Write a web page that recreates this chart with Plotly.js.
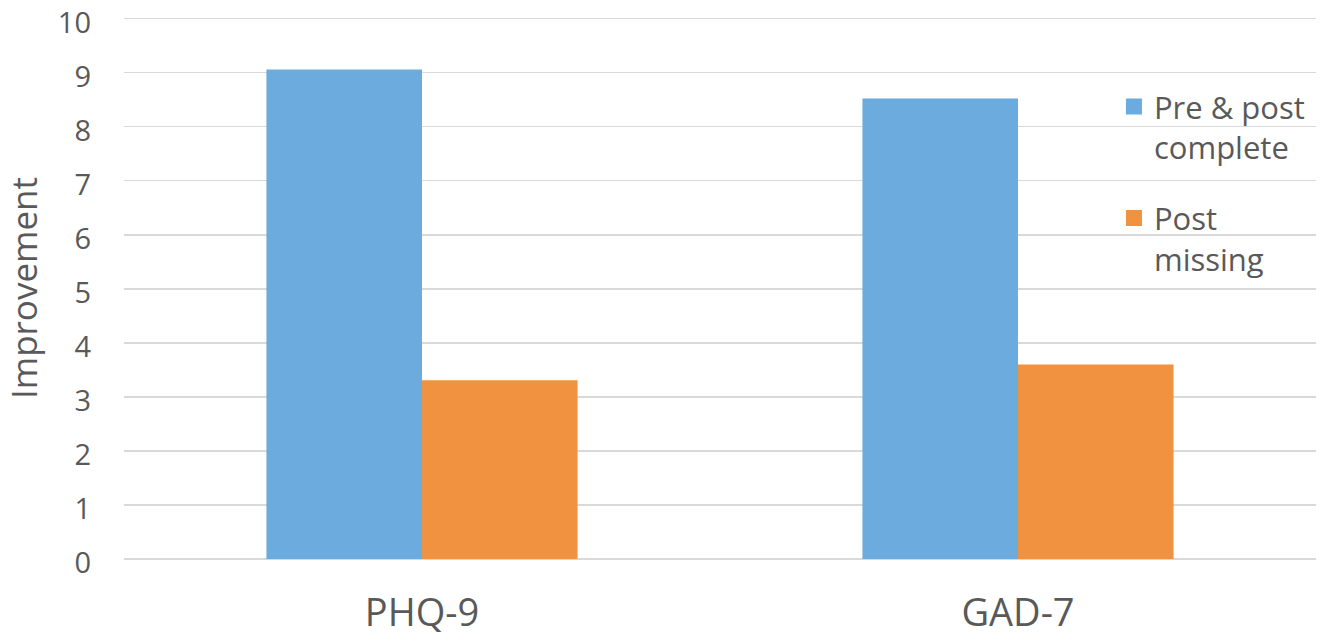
<!DOCTYPE html>
<html>
<head>
<meta charset="utf-8">
<script src="https://cdn.plot.ly/plotly-3.0.1.min.js"></script>
<style>
  html, body { margin: 0; padding: 0; background: #ffffff; }
  #chart { width: 1327px; height: 641px; }
</style>
</head>
<body>
<div id="chart"></div>
<script>
// Mean improvement on each questionnaire, split by follow-up status
const measures = ['PHQ-9', 'GAD-7'];
const prePostComplete = [9.06, 8.52];
const postMissing = [3.31, 3.60];
const seriesNames = ['Pre & post<br>complete', 'Post<br>missing'];
const seriesColors = ['#6cabdd', '#f19240'];
const yTicks = [0, 1, 2, 3, 4, 5, 6, 7, 8, 9, 10];

const textColor = '#595959';
const fontFamily = '"Open Sans", "Noto Sans", sans-serif';

const bars = [prePostComplete, postMissing].map((vals, i) => ({
  type: 'bar',
  x: measures,
  y: vals,
  name: seriesNames[i],
  marker: { color: seriesColors[i], line: { width: 0 } },
  showlegend: false,
  hoverinfo: 'x+y'
}));

// Legend entries with larger square swatches
const legendEntries = seriesNames.map((nm, i) => ({
  type: 'scatter',
  mode: 'markers',
  x: [null],
  y: [null],
  name: nm,
  legendgroup: 'g' + i,
  marker: { symbol: 'square', size: 16, color: seriesColors[i] },
  showlegend: true,
  hoverinfo: 'skip'
}));

const layout = {
  width: 1327,
  height: 641,
  margin: { l: 124, r: 11, t: 17, b: 82 },
  paper_bgcolor: '#ffffff',
  plot_bgcolor: '#ffffff',
  barmode: 'group',
  bargap: 0.478,
  bargroupgap: 0,
  font: { family: fontFamily, color: textColor },
  xaxis: {
    type: 'category',
    tickfont: { size: 38, color: textColor },
    showgrid: false,
    showline: false,
    zeroline: false,
    ticks: '',
    ticklabelstandoff: 28
  },
  yaxis: {
    range: [0, 10.03],
    tickvals: yTicks,
    tickfont: { size: 29, color: textColor },
    ticklabeloverflow: 'allow',
    ticklabelshift: 4,
    showgrid: true,
    gridcolor: '#d9d9d9',
    gridwidth: 1.5,
    zeroline: true,
    zerolinecolor: '#d9d9d9',
    zerolinewidth: 1.5,
    showline: false,
    ticks: '',
    ticklabelstandoff: 32,
    title: {
      text: 'Improvement',
      font: { size: 35, color: textColor },
      standoff: 27
    }
  },
  legend: {
    x: 0.8305,
    xanchor: 'left',
    y: 0.884,
    yanchor: 'top',
    bgcolor: 'rgba(0,0,0,0)',
    borderwidth: 0,
    font: { size: 31, color: textColor },
    valign: 'top',
    tracegroupgap: 28,
    traceorder: 'grouped'
  },
  showlegend: true
};

Plotly.newPlot('chart', bars.concat(legendEntries), layout, { displayModeBar: false, staticPlot: true });
</script>
</body>
</html>
